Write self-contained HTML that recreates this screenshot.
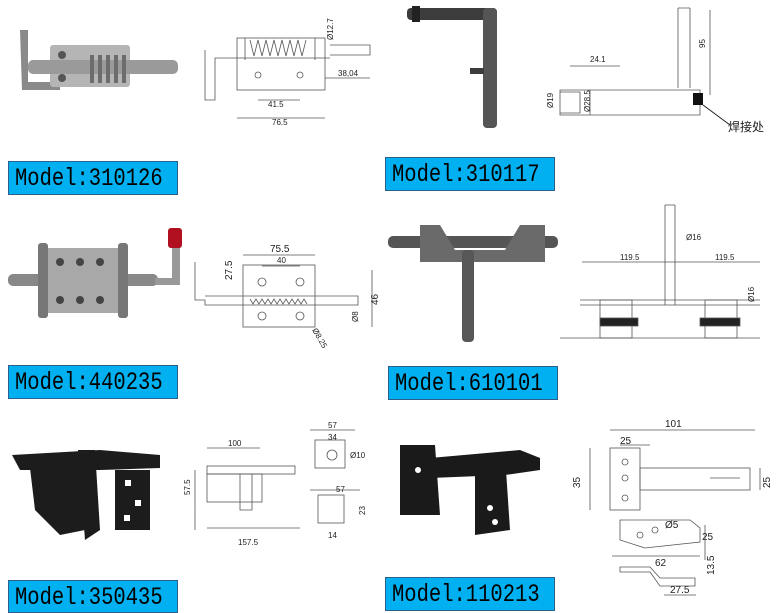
<!DOCTYPE html>
<html><head><meta charset="utf-8"><style>
body{margin:0;width:783px;height:613px;background:#fff;position:relative;overflow:hidden;font-family:"Liberation Sans",sans-serif}
.lab{position:absolute;background:#00b0f0;border:1px solid #2e5f8a;color:#000;box-sizing:border-box;height:34px;width:170px;overflow:hidden}
.lab span{position:absolute;left:6px;top:3px;font-family:"Liberation Mono",monospace;font-size:25px;line-height:28px;transform:scaleX(0.82);transform-origin:left top;white-space:nowrap}
svg{position:absolute;left:0;top:0}
</style></head><body>
<svg width="783" height="613" viewBox="0 0 783 613" font-family="Liberation Sans" font-size="8" fill="none" stroke="#555" stroke-width="0.8">
<g stroke="none">
<path d="M20 30 L28 30 L28 82 L60 82 L60 90 L22 90 Z" fill="#8a8a8a"/>
<rect x="50" y="45" width="80" height="42" rx="3" fill="#b5b5b5"/>
<rect x="28" y="60" width="150" height="14" rx="5" fill="#9a9a9a"/>
<g fill="#6c6c6c"><rect x="90" y="55" width="4" height="28"/><rect x="98" y="55" width="4" height="28"/><rect x="106" y="55" width="4" height="28"/><rect x="114" y="55" width="4" height="28"/><rect x="122" y="55" width="4" height="28"/></g>
<circle cx="62" cy="55" r="4" fill="#555"/><circle cx="62" cy="78" r="4" fill="#555"/>
</g>
<rect x="237" y="38" width="88" height="52"/><path d="M205 50 L205 100 L215 100 L215 58 L330 58 M330 45 L370 45 L370 55 L330 55"/>
<path d="M245 38 L245 60 M315 38 L315 60"/><path d="M250 40 l4 16 l4 -16 l4 16 l4 -16 l4 16 l4 -16 l4 16 l4 -16 l4 16 l4 -16 l4 16 l4 -16 l4 16 l4 -16"/>
<circle cx="258" cy="75" r="3"/><circle cx="300" cy="75" r="3"/>
<path d="M258 100 L300 100 M237 118 L325 118 M325 78 L370 78"/>
<g fill="#222" stroke="none"><text x="268" y="107">41.5</text><text x="272" y="125">76.5</text><text x="338" y="76">38,04</text><text x="333" y="40" transform="rotate(-90 333 40)">Ø12.7</text></g>
<g stroke="none" fill="#3c3c3c"><rect x="407" y="8" width="90" height="12" rx="4"/><rect x="483" y="8" width="14" height="120" rx="4" fill="#555"/><rect x="412" y="6" width="8" height="16" fill="#222"/><rect x="470" y="68" width="14" height="6"/></g>
<path d="M678 8 L678 88 M690 8 L690 88 M678 8 L690 8 M560 90 L700 90 L700 115 L560 115 Z M560 92 L580 92 L580 113 L560 113 M590 90 L590 115"/>
<path d="M570 66 L620 66 M710 10 L710 95"/><rect x="693" y="93" width="10" height="12" fill="#111" stroke="none"/><path d="M703 105 L730 125" stroke="#111"/>
<g fill="#222" stroke="none"><text x="590" y="62">24.1</text><text x="705" y="48" transform="rotate(-90 705 48)">95</text><text x="553" y="108" transform="rotate(-90 553 108)">Ø19</text><text x="590" y="112" transform="rotate(-90 590 112)">Ø28.5</text><text x="728" y="131" font-size="12" font-family="Noto Sans CJK SC">焊接处</text></g>
<g stroke="none"><rect x="8" y="274" width="150" height="12" rx="5" fill="#888"/><rect x="40" y="248" width="85" height="65" rx="4" fill="#a8a8a8"/><rect x="38" y="243" width="10" height="75" rx="3" fill="#777"/><rect x="118" y="243" width="10" height="75" rx="3" fill="#777"/>
<path d="M155 285 L180 285 L180 245 L172 245 L172 278 L155 278 Z" fill="#999"/><rect x="168" y="228" width="14" height="20" rx="3" fill="#b01020"/>
<g fill="#444"><circle cx="60" cy="262" r="4"/><circle cx="80" cy="262" r="4"/><circle cx="100" cy="262" r="4"/><circle cx="60" cy="300" r="4"/><circle cx="80" cy="300" r="4"/><circle cx="100" cy="300" r="4"/></g></g>
<rect x="243" y="265" width="72" height="62"/><path d="M195 262 L195 300 L205 300 L205 305 L358 305 L358 296 L205 296 M248 296 L315 296"/>
<path d="M250 299 l3 5 l3 -5 l3 5 l3 -5 l3 5 l3 -5 l3 5 l3 -5 l3 5 l3 -5 l3 5 l3 -5 l3 5 l3 -5 l3 5 l3 -5 l3 5 l3 -5 l3 5"/>
<circle cx="262" cy="282" r="4"/><circle cx="300" cy="282" r="4"/><circle cx="262" cy="316" r="4"/><circle cx="300" cy="316" r="4"/>
<path d="M243 255 L315 255 M262 266 L300 266 M372 270 L372 327"/>
<g fill="#222" stroke="none"><text x="270" y="252" font-size="10">75.5</text><text x="277" y="263">40</text><text x="232" y="280" transform="rotate(-90 232 280)" font-size="10">27.5</text><text x="378" y="305" transform="rotate(-90 378 305)" font-size="10">46</text><text x="358" y="322" transform="rotate(-90 358 322)">Ø8</text><text x="312" y="330" transform="rotate(60 312 330)">Ø8.25</text></g>
<g stroke="none" fill="#6a6a6a"><rect x="388" y="236" width="170" height="12" rx="5" fill="#555"/><path d="M420 225 L440 225 L455 250 L505 250 L520 225 L545 225 L545 262 L420 262 Z"/><rect x="462" y="250" width="12" height="92" rx="4" fill="#575757"/></g>
<path d="M665 205 L665 305 M675 205 L675 305 M665 205 L675 205 M582 262 L760 262 M580 300 L760 300 M580 305 L760 305"/>
<rect x="600" y="300" width="32" height="38"/><rect x="705" y="300" width="32" height="38"/><rect x="600" y="318" width="38" height="8" fill="#222"/><rect x="700" y="318" width="40" height="8" fill="#222"/>
<path d="M560 338 L760 338"/>
<g fill="#222" stroke="none"><text x="620" y="260">119.5</text><text x="715" y="260">119.5</text><text x="686" y="240">Ø16</text><text x="754" y="302" transform="rotate(-90 754 302)">Ø16</text></g>
<g stroke="none" fill="#1c1c1c"><path d="M12 455 L100 450 L160 455 L160 468 L100 470 L20 470 Z"/><path d="M30 468 L80 468 L85 530 L60 535 L35 510 Z"/><path d="M78 450 L95 450 L100 530 L85 540 Z"/><rect x="115" y="470" width="35" height="60"/><g fill="#fff"><rect x="125" y="480" width="6" height="6"/><rect x="135" y="500" width="6" height="6"/><rect x="124" y="515" width="6" height="6"/></g></g>
<rect x="207" y="466" width="88" height="8"/><rect x="207" y="474" width="55" height="28"/><path d="M240 474 L240 510 L252 510 L252 474 M195 470 L195 530 M207 528 L300 528 M207 448 L260 448"/>
<rect x="315" y="440" width="30" height="28"/><rect x="318" y="495" width="26" height="28"/><path d="M310 430 L355 430 M310 490 L360 490"/><circle cx="332" cy="455" r="5"/>
<g fill="#222" stroke="none"><text x="228" y="446">100</text><text x="238" y="545">157.5</text><text x="190" y="495" transform="rotate(-90 190 495)">57.5</text><text x="328" y="428">57</text><text x="328" y="440">34</text><text x="336" y="492">57</text><text x="350" y="458">Ø10</text><text x="365" y="515" transform="rotate(-90 365 515)">23</text><text x="328" y="538">14</text></g>
<g stroke="none" fill="#1a1a1a"><path d="M400 445 L435 445 L440 515 L400 515 Z"/><path d="M430 458 L520 450 L540 458 L540 470 L505 475 L430 478 Z"/><path d="M475 455 L505 455 L510 530 L475 535 Z"/><g fill="#fff"><circle cx="418" cy="470" r="3"/><circle cx="490" cy="508" r="3"/><circle cx="495" cy="522" r="3"/></g></g>
<rect x="610" y="448" width="30" height="62"/><rect x="640" y="468" width="110" height="22"/><path d="M610 430 L755 430 M590 448 L590 510 M760 468 L760 490 M710 478 L740 478 M620 445 L650 445"/>
<circle cx="625" cy="462" r="3"/><circle cx="625" cy="478" r="3"/><circle cx="625" cy="498" r="3"/>
<path d="M620 520 L690 520 L700 528 L700 542 L645 548 L620 540 Z M612 556 L700 556 M705 525 L705 560"/><circle cx="640" cy="535" r="3"/><circle cx="655" cy="530" r="3"/>
<path d="M620 567 L650 567 L660 578 L695 578 L695 586 L660 586 L650 572 L620 572 Z M664 595 L696 595"/>
<g fill="#222" stroke="none" font-size="10"><text x="620" y="444">25</text><text x="665" y="427">101</text><text x="580" y="488" transform="rotate(-90 580 488)">35</text><text x="770" y="488" transform="rotate(-90 770 488)">25</text><text x="665" y="528">Ø5</text><text x="702" y="540">25</text><text x="655" y="566">62</text><text x="714" y="575" transform="rotate(-90 714 575)">13.5</text><text x="670" y="593">27.5</text></g>
</svg>
<div class="lab" style="left:8px;top:161px"><span>Model:310126</span></div>
<div class="lab" style="left:385px;top:157px"><span>Model:310117</span></div>
<div class="lab" style="left:8px;top:365px"><span>Model:440235</span></div>
<div class="lab" style="left:388px;top:366px"><span>Model:610101</span></div>
<div class="lab" style="left:8px;top:580px;height:33px"><span>Model:350435</span></div>
<div class="lab" style="left:385px;top:577px"><span>Model:110213</span></div>
</body></html>
